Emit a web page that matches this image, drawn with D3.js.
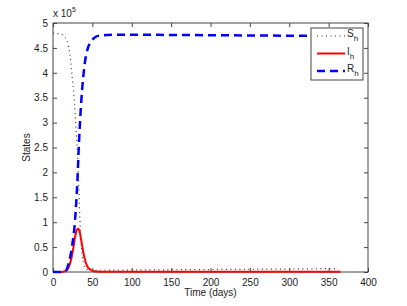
<!DOCTYPE html>
<html>
<head>
<meta charset="utf-8">
<script src="https://cdn.jsdelivr.net/npm/d3@7"></script>
<style>
  body { margin: 0; background: #fff; }
  text { font-family: "Liberation Sans", Arial, sans-serif; }
</style>
</head>
<body>
<div id="chart"></div>
<script>
// time points (days) and states in units of 1e5
var timeS = [0, 5, 11, 17, 21, 24, 27, 29, 31, 33, 35, 37, 39, 42, 46, 50, 60, 100, 150, 200, 250, 300, 361];
var susceptible = [4.8, 4.79, 4.77, 4.66, 4.42, 3.98, 3.45, 2.95, 2.38, 1.55, 0.75, 0.35, 0.15, 0.06, 0.04, 0.035, 0.035, 0.04, 0.045, 0.05, 0.055, 0.06, 0.07];

var timeI = [0, 10, 16, 20, 23, 26, 28, 30, 32, 34, 36, 38, 41, 44, 48, 52, 56, 60, 100, 200, 300, 365];
var infected = [0, 0, 0.02, 0.1, 0.25, 0.5, 0.7, 0.84, 0.87, 0.8, 0.62, 0.44, 0.22, 0.1, 0.04, 0.015, 0.008, 0.006, 0.006, 0.006, 0.006, 0.006];

var timeR = [0, 10, 16, 20, 24, 28, 31, 33, 36, 40, 44, 48, 53, 60, 70, 80, 100, 150, 200, 250, 300, 365];
var recovered = [0, 0, 0.02, 0.18, 0.5, 1.04, 1.84, 2.6, 3.45, 4.15, 4.48, 4.62, 4.71, 4.75, 4.76, 4.765, 4.765, 4.76, 4.755, 4.75, 4.745, 4.735];

var xTicks = [0, 50, 100, 150, 200, 250, 300, 350, 400];
var yTicks = [0, 0.5, 1, 1.5, 2, 2.5, 3, 3.5, 4, 4.5, 5];

var W = 407, H = 306;
var margin = {left: 53, right: 39, top: 23, bottom: 34};
var iw = W - margin.left - margin.right, ih = H - margin.top - margin.bottom;

var svg = d3.select("#chart").append("svg").attr("width", W).attr("height", H);
var g = svg.append("g").attr("transform", "translate(" + margin.left + "," + margin.top + ")");

var x = d3.scaleLinear().domain([0, 400]).range([0, iw]);
var y = d3.scaleLinear().domain([0, 5]).range([ih, 0]);

var axisColor = "#444";
function styleAxis(sel) {
    sel.select(".domain").remove();
    sel.selectAll("line").attr("stroke", axisColor);
    sel.selectAll("text").attr("fill", "#222").style("font-size", "10px");
}

g.append("g").attr("transform", "translate(0," + ih + ")")
    .call(d3.axisBottom(x).tickValues(xTicks).tickSizeInner(-4).tickSizeOuter(0).tickPadding(7))
    .call(styleAxis);
g.append("g")
    .call(d3.axisLeft(y).tickValues(yTicks).tickFormat(d3.format("")).tickSizeInner(-4).tickSizeOuter(0).tickPadding(5))
    .call(styleAxis);
g.append("g")
    .call(d3.axisTop(x).tickValues(xTicks).tickFormat("").tickSizeInner(-4).tickSizeOuter(0))
    .call(styleAxis);
g.append("g").attr("transform", "translate(" + iw + ",0)")
    .call(d3.axisRight(y).tickValues(yTicks).tickFormat("").tickSizeInner(-4).tickSizeOuter(0))
    .call(styleAxis);

g.append("rect").attr("width", iw).attr("height", ih)
    .attr("fill", "none").attr("stroke", axisColor).attr("stroke-width", 1);

// exponent label
var expo = svg.append("text").attr("x", margin.left).attr("y", 17).style("font-size", "10px").attr("fill", "#222");
expo.append("tspan").text("x 10");
expo.append("tspan").attr("dy", -5).style("font-size", "7px").text("5");

function makeLine(ts) {
    return d3.line()
        .x(function(d, i) { return x(ts[i]); })
        .y(function(d) { return y(d); })
        .curve(d3.curveMonotoneX);
}

var series = [
    {name: "S", t: timeS, v: susceptible, color: "#333", width: 1.2, dash: "1,3.5"},
    {name: "I", t: timeI, v: infected, color: "#f00", width: 2, dash: null},
    {name: "R", t: timeR, v: recovered, color: "#00f", width: 2.5, dash: "8,5"}
];

series.forEach(function(s) {
    g.append("path").datum(s.v)
        .attr("d", makeLine(s.t))
        .attr("fill", "none")
        .attr("stroke", s.color)
        .attr("stroke-width", s.width)
        .attr("stroke-dasharray", s.dash);
});

// legend
var lg = svg.append("g").attr("transform", "translate(311,28)");
lg.append("rect").attr("width", 52).attr("height", 52)
    .attr("fill", "#fff").attr("stroke", axisColor).attr("stroke-width", 1);
series.forEach(function(s, i) {
    var yy = 8 + i * 17.5;
    lg.append("line").attr("x1", 6).attr("x2", 34).attr("y1", yy).attr("y2", yy)
        .attr("stroke", s.color).attr("stroke-width", s.width).attr("stroke-dasharray", s.dash);
    var t = lg.append("text").attr("x", 36).attr("y", yy + 1).style("font-size", "10px").attr("fill", "#222");
    t.append("tspan").text(s.name);
    t.append("tspan").attr("dy", 4).style("font-size", "8px").text("h");
});

// axis titles
svg.append("text").attr("x", margin.left + iw / 2).attr("y", 296)
    .attr("text-anchor", "middle").style("font-size", "10px").attr("fill", "#222").text("Time (days)");
svg.append("text").attr("transform", "translate(30," + (margin.top + ih / 2) + ") rotate(-90)")
    .attr("text-anchor", "middle").style("font-size", "10px").attr("fill", "#222").text("States");
</script>
</body>
</html>
